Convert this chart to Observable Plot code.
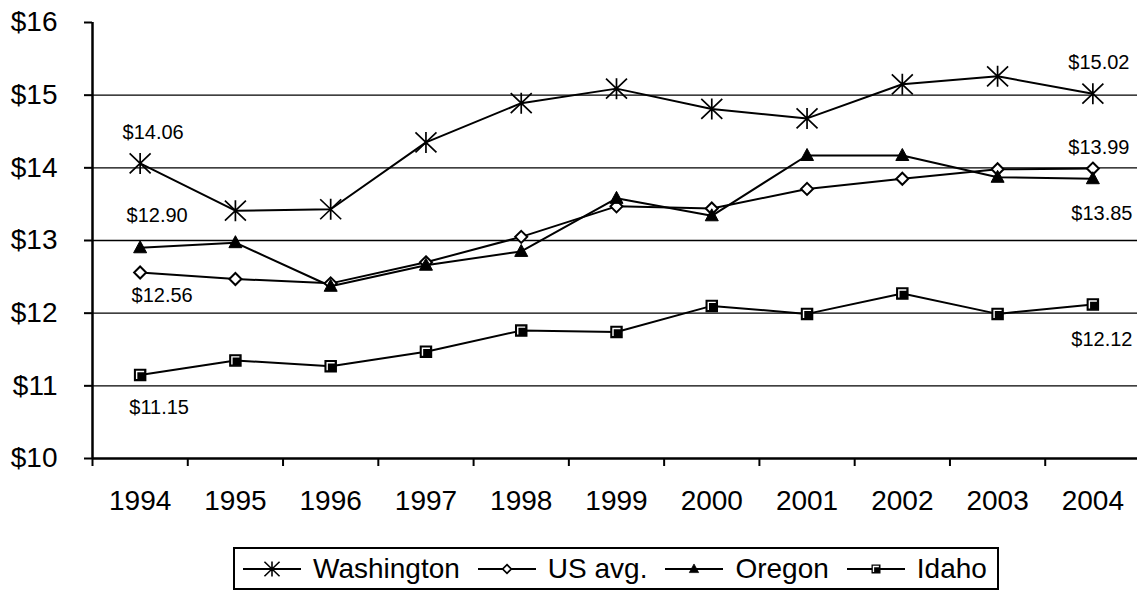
<!DOCTYPE html>
<html>
<head>
<meta charset="utf-8">
<script src="https://cdn.jsdelivr.net/npm/d3@7"></script>
<script src="https://cdn.jsdelivr.net/npm/@observablehq/plot@0.6"></script>
<style>
  html, body { margin: 0; padding: 0; background: #fff; }
  body { width: 1137px; height: 591px; overflow: hidden; font-family: "Liberation Sans", Arial, sans-serif; }
  #legend {
    position: absolute; left: 233px; top: 547px; height: 39px;
    border: 2px solid #000; display: flex; align-items: center;
    padding: 0 10px 0 8px; font-size: 28px; color: #000; background: #fff;
  }
  #legend .item { display: flex; align-items: center; }
  #legend .item + .item { margin-left: 18px; }
  #legend .lbl { margin-left: 12px; line-height: 1; }
  #legend svg { display: block; }
</style>
</head>
<body>
<div id="chart"></div>
<div id="legend"></div>
<script>
// ---- data ----
const years = [1994, 1995, 1996, 1997, 1998, 1999, 2000, 2001, 2002, 2003, 2004];
const washington = [14.06, 13.41, 13.43, 14.35, 14.89, 15.09, 14.81, 14.68, 15.15, 15.26, 15.02];
const usAvg      = [12.56, 12.47, 12.41, 12.70, 13.05, 13.47, 13.44, 13.71, 13.85, 13.98, 13.99];
const oregon     = [12.90, 12.97, 12.37, 12.66, 12.85, 13.58, 13.34, 14.17, 14.17, 13.87, 13.85];
const idaho      = [11.15, 11.35, 11.27, 11.47, 11.76, 11.74, 12.10, 11.99, 12.27, 11.99, 12.12];
const seriesNames = ["Washington", "US avg.", "Oregon", "Idaho"];
const yTicks = [10, 11, 12, 13, 14, 15, 16];

// ---- custom symbols ----
const star = {draw(c) { c.moveTo(0, -10.5); c.lineTo(0, 10.5); c.moveTo(-10.5, -10); c.lineTo(10.5, 10); c.moveTo(-10.5, 10); c.lineTo(10.5, -10); }};
const diamond = {draw(c) { c.moveTo(0, -6); c.lineTo(6, 0); c.lineTo(0, 6); c.lineTo(-6, 0); c.closePath(); }};
const triangle = {draw(c) { c.moveTo(0, -7); c.lineTo(6.5, 5); c.lineTo(-6.5, 5); c.closePath(); }};
const square = {draw(c) { c.moveTo(-5.5, -5.5); c.lineTo(5.5, -5.5); c.lineTo(5.5, 5.5); c.lineTo(-5.5, 5.5); c.closePath(); }};
const squareHi = {draw(c) { c.moveTo(-3.5, 4); c.lineTo(-3.5, -3.5); c.lineTo(4, -3.5); }};

const toRows = (name, vals) => vals.map((v, i) => ({series: name, year: years[i], value: v}));
const wa = toRows("Washington", washington);
const us = toRows("US avg.", usAvg);
const or = toRows("Oregon", oregon);
const id = toRows("Idaho", idaho);
const all = [...wa, ...us, ...or, ...id];

const bounds = [...years.map(y => y - 0.5), years[years.length - 1] + 0.5];
const fmt = v => "$" + v.toFixed(2);
const first = rows => [rows[0]];
const last = rows => [rows[rows.length - 1]];
const lab = (rows, dx, dy) => Plot.text(rows, {x: "year", y: "value", text: d => fmt(d.value), dx, dy, fontSize: 20, fill: "black", textAnchor: "middle", lineAnchor: "middle"});

const chart = Plot.plot({
  width: 1137,
  height: 540,
  marginLeft: 92,
  marginRight: 0,
  marginTop: 22,
  marginBottom: 82,
  style: {fontFamily: "'Liberation Sans', Arial, sans-serif", fontSize: "28px", color: "black", background: "white", overflow: "visible"},
  x: {type: "linear", domain: [bounds[0], bounds[bounds.length - 1]], range: [92, 1140], label: null},
  y: {domain: [10, 16], range: [458, 22], label: null},
  marks: [
    Plot.ruleY(yTicks.filter(t => t > 10 && t < 16), {stroke: "black", strokeWidth: 1.3}),
    Plot.axisY({ticks: yTicks, tickSize: 8, tickPadding: 27, tickFormat: d => "$" + d, fontSize: 28, strokeWidth: 2, label: null}),
    Plot.axisX({ticks: bounds, tickSize: 8, tickFormat: () => "", strokeWidth: 2, label: null}),
    Plot.axisX({ticks: years, tickSize: 0, tickPadding: 32, tickFormat: d => String(d), fontSize: 28, label: null}),
    Plot.ruleY([10], {stroke: "black", strokeWidth: 2.5}),
    Plot.ruleX([bounds[0]], {stroke: "black", strokeWidth: 2.5}),
    Plot.line(all, {x: "year", y: "value", z: "series", stroke: "black", strokeWidth: 2}),
    Plot.dot(wa, {x: "year", y: "value", symbol: star, stroke: "black", strokeWidth: 1.7, fill: "none"}),
    Plot.dot(us, {x: "year", y: "value", symbol: diamond, stroke: "black", strokeWidth: 2, fill: "white"}),
    Plot.dot(or, {x: "year", y: "value", symbol: triangle, stroke: "black", strokeWidth: 1, fill: "black"}),
    Plot.dot(id, {x: "year", y: "value", symbol: square, stroke: "black", strokeWidth: 1.5, fill: "black"}),
    Plot.dot(id, {x: "year", y: "value", symbol: squareHi, stroke: "white", strokeWidth: 1.4, fill: "none"}),
    lab(first(wa), 13, -31),
    lab(first(or), 17, -32),
    lab(first(us), 22, 23),
    lab(first(id), 19, 33),
    lab(last(wa), 6, -31),
    lab(last(us), 6, -21),
    lab(last(or), 9, 35),
    lab(last(id), 9, 35)
  ]
});
document.getElementById("chart").appendChild(chart);

// ---- legend ----
const legendSyms = [
  {sym: star, fill: "none", stroke: "black", sw: 2.2, hi: null},
  {sym: diamond, fill: "white", stroke: "black", sw: 2.4, hi: null},
  {sym: triangle, fill: "black", stroke: "black", sw: 1, hi: null},
  {sym: square, fill: "black", stroke: "black", sw: 1.5, hi: squareHi}
];
const legend = d3.select("#legend");
seriesNames.forEach((name, i) => {
  const s = legendSyms[i];
  const item = legend.append("div").attr("class", "item");
  const svg = item.append("svg").attr("width", 58).attr("height", 24);
  svg.append("line").attr("x1", 0).attr("x2", 58).attr("y1", 12).attr("y2", 12).attr("stroke", "black").attr("stroke-width", 2);
  const g = svg.append("g").attr("transform", "translate(29,12) scale(0.72)");
  g.append("path").attr("d", d3.symbol(s.sym)()).attr("fill", s.fill).attr("stroke", s.stroke).attr("stroke-width", s.sw);
  if (s.hi) g.append("path").attr("d", d3.symbol(s.hi)()).attr("fill", "none").attr("stroke", "white").attr("stroke-width", 1.8);
  item.append("span").attr("class", "lbl").text(name);
});
</script>
</body>
</html>
